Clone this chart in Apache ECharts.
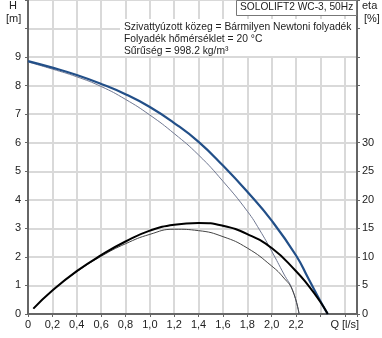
<!DOCTYPE html>
<html>
<head>
<meta charset="utf-8">
<script src="https://cdn.jsdelivr.net/npm/echarts@6/dist/echarts.min.js"></script>
<style>
  html, body { margin: 0; padding: 0; background: #fff; }
  #chart { width: 382px; height: 338px; }
</style>
</head>
<body>
<div id="chart"></div>
<script>
// Pump curve: head H [m] and efficiency eta [%] against flow Q [l/s]
const qHead = [0, 0.2, 0.4, 0.6, 0.8, 1.0, 1.2, 1.4, 1.6, 1.8, 2.0, 2.2, 2.3, 2.4, 2.46];
const headMain = [8.86, 8.63, 8.37, 8.06, 7.70, 7.25, 6.69, 6.03, 5.20, 4.28, 3.27, 2.05, 1.25, 0.45, 0];

const qHead2 = [0, 0.2, 0.4, 0.6, 0.8, 1.0, 1.2, 1.4, 1.6, 1.8, 1.9, 2.0, 2.1, 2.17, 2.225];
const headLow = [8.83, 8.58, 8.31, 7.97, 7.52, 6.97, 6.32, 5.57, 4.65, 3.6, 2.95, 2.2, 1.4, 0.85, 0];

const qEta = [0.044, 0.2, 0.4, 0.6, 0.8, 1.0, 1.2, 1.4, 1.6, 1.8, 2.0, 2.2, 2.3, 2.4, 2.46];
const etaMain = [0.95, 4.1, 7.5, 10.3, 12.7, 14.6, 15.65, 15.95, 15.45, 14.0, 11.55, 7.5, 5.0, 2.1, 0];

const qEta2 = [0.044, 0.2, 0.4, 0.6, 0.8, 1.0, 1.2, 1.4, 1.6, 1.8, 2.0, 2.1, 2.17, 2.225];
const etaLow = [0.95, 4.1, 7.4, 10.1, 12.3, 13.95, 14.85, 14.6, 13.55, 11.55, 8.4, 6.3, 4.2, 0];

const titleText = 'SOLOLIFT2 WC-3, 50Hz';
const infoLines = [
  'Szivattyúzott közeg = Bármilyen Newtoni folyadék',
  'Folyadék hőmérséklet = 20 °C',
  'Sűrűség = 998.2 kg/m³'
];
const hLabelMax = 9;     // highest labelled head tick
const etaLabelMax = 30;  // highest labelled efficiency tick

const pairs = (xs, ys) => xs.map((x, i) => [x, ys[i]]);
const font = '"Liberation Sans", Arial, sans-serif';
const textColor = '#222';
const axisColor = '#666';
const gridColor = '#d9d9d9';

const chart = echarts.init(document.getElementById('chart'), null, { renderer: 'canvas' });

function qLabel(v) {
  const r = Math.round(v * 10) / 10;
  if (r === 0) return '0';
  if (Math.abs(r - 2.6) < 1e-6) return 'Q [l/s]';
  if (r > 2.25) return '';
  return r.toFixed(1).replace('.', ',');
}

const lineBase = { type: 'line', showSymbol: false, smooth: 0.5, animation: false };

chart.setOption({
  animation: false,
  backgroundColor: '#fff',
  grid: { left: 28, right: 25, top: 0, bottom: 24, containLabel: false },
  xAxis: {
    type: 'value', min: 0, max: 2.7, interval: 0.2,
    axisLine: { show: true, onZero: false, lineStyle: { color: axisColor, width: 2 } },
    axisTick: { show: true, length: 3, lineStyle: { color: axisColor } },
    splitLine: { show: true, lineStyle: { color: gridColor, width: 2 } },
    axisLabel: { formatter: qLabel, color: textColor, fontFamily: font, fontSize: 11, margin: 5, showMaxLabel: true }
  },
  yAxis: [
    {
      type: 'value', min: 0, max: 11, interval: 1, position: 'left',
      axisLine: { show: true, lineStyle: { color: axisColor, width: 2 } },
      axisTick: { show: true, length: 3, lineStyle: { color: axisColor } },
      splitLine: { show: true, lineStyle: { color: gridColor, width: 2 } },
      axisLabel: {
        formatter: v => (v <= hLabelMax ? String(v) : ''),
        color: textColor, fontFamily: font, fontSize: 11, margin: 7
      }
    },
    {
      type: 'value', min: 0, max: 55, interval: 5, position: 'right',
      axisLine: { show: true, lineStyle: { color: axisColor, width: 2 } },
      axisTick: { show: true, length: 3, lineStyle: { color: axisColor } },
      splitLine: { show: false },
      axisLabel: {
        formatter: v => (v <= etaLabelMax ? String(v) : ''),
        color: textColor, fontFamily: font, fontSize: 11, margin: 5
      }
    }
  ],
  series: [
    Object.assign({}, lineBase, {
      name: 'H2', yAxisIndex: 0, data: pairs(qHead2, headLow),
      lineStyle: { color: '#6f7791', width: 1 }, z: 3
    }),
    Object.assign({}, lineBase, {
      name: 'eta2', yAxisIndex: 1, data: pairs(qEta2, etaLow),
      lineStyle: { color: '#444', width: 1 }, z: 3
    }),
    Object.assign({}, lineBase, {
      name: 'H', yAxisIndex: 0, data: pairs(qHead, headMain),
      lineStyle: { color: '#224f88', width: 2.2 }, z: 4
    }),
    Object.assign({}, lineBase, {
      name: 'eta', yAxisIndex: 1, data: pairs(qEta, etaMain),
      lineStyle: { color: '#000', width: 2 }, z: 4
    })
  ],
  graphic: [
    { type: 'rect', left: 120, top: 19, shape: { width: 236, height: 37 }, style: { fill: '#fff' }, z: 10 },
    { type: 'text', left: 124, top: 22, style: { text: infoLines[0], fill: textColor, font: '10.3px ' + font }, z: 11 },
    { type: 'text', left: 124, top: 34, style: { text: infoLines[1], fill: textColor, font: '10.3px ' + font }, z: 11 },
    { type: 'text', left: 124, top: 46, style: { text: infoLines[2], fill: textColor, font: '10.3px ' + font }, z: 11 },
    { type: 'rect', left: 236, top: 0, shape: { width: 120, height: 15 }, style: { fill: '#fff', stroke: '#777', lineWidth: 1 }, z: 10 },
    { type: 'text', left: 240, top: 2, style: { text: titleText, fill: textColor, font: '10.2px ' + font }, z: 11 },
    { type: 'text', left: 9, top: 0, style: { text: 'H', fill: textColor, font: '11px ' + font }, z: 11 },
    { type: 'text', left: 6, top: 13, style: { text: '[m]', fill: textColor, font: '11px ' + font }, z: 11 },
    { type: 'text', left: 362, top: 0, style: { text: 'eta', fill: textColor, font: '11px ' + font }, z: 11 },
    { type: 'text', left: 364, top: 13, style: { text: '[%]', fill: textColor, font: '11px ' + font }, z: 11 }
  ]
});
</script>
</body>
</html>
